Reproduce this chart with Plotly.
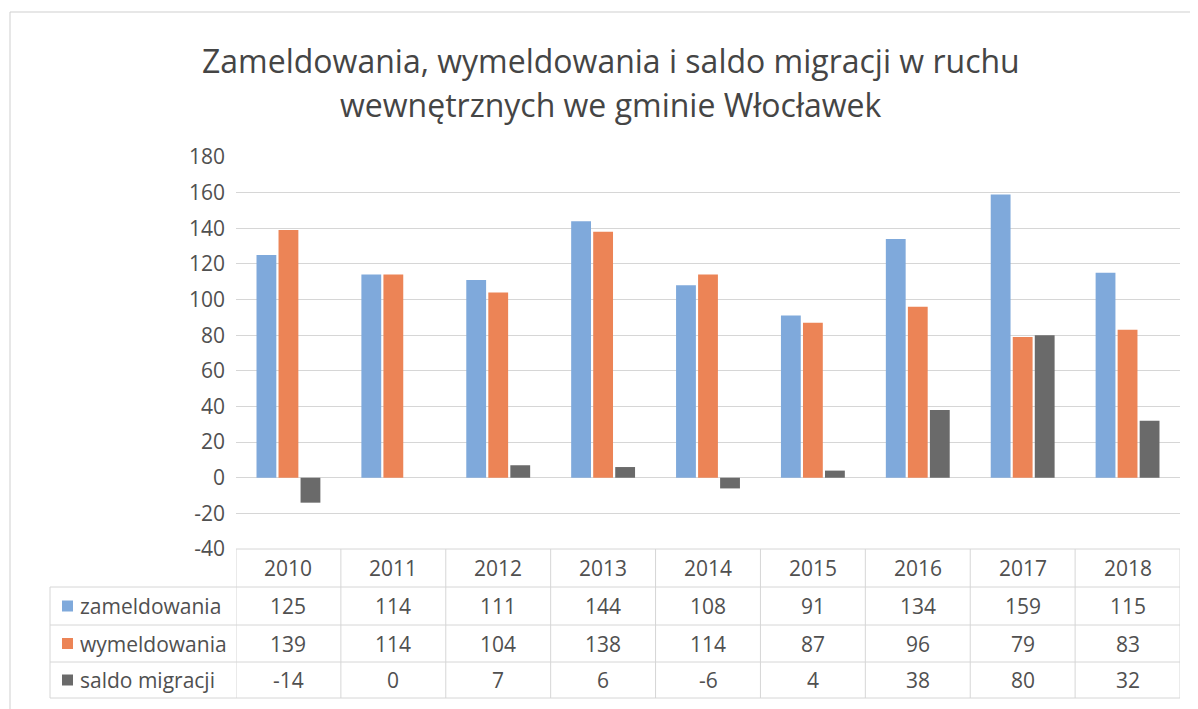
import plotly.graph_objects as go

years = ["2010", "2011", "2012", "2013", "2014", "2015", "2016", "2017", "2018"]
zameldowania = [125, 114, 111, 144, 108, 91, 134, 159, 115]
wymeldowania = [139, 114, 104, 138, 114, 87, 96, 79, 83]
saldo = [-14, 0, 7, 6, -6, 4, 38, 80, 32]
series_names = ["zameldowania", "wymeldowania", "saldo migracji"]
colors = ["#7fa9db", "#ec8456", "#6a6a6a"]
y_tickvals = [-40, -20, 0, 20, 40, 60, 80, 100, 120, 140, 160, 180]
y_ticktext = ["-40", "-20", "0", "20", "40", "60", "80", "100", "120", "140", "160", "180"]
title_lines = ["Zameldowania, wymeldowania i saldo migracji w ruchu",
               "wewnętrznych we gminie Włocławek"]

OFF = 8  # page body margin of the html page
W, H = 1198 - OFF, 709 - OFF
L, R, T, B = 236 - OFF, 1180 - OFF, 157 - OFF, 549 - OFF  # plot area in figure pixels
PW, PH = R - L, B - T

def fx(px):
    return (px - OFF - L) / PW

def fy(py):
    return (B - (py - OFF)) / PH

FONT = "Open Sans"
TXT = "#505050"
GRID = "#d6d6d6"
FS = 21

xs = list(range(len(years)))
fig = go.Figure()
for name, vals, col in zip(series_names, [zameldowania, wymeldowania, saldo], colors):
    fig.add_trace(go.Bar(x=xs, y=vals, name=name, marker_color=col,
                         marker_line_width=0, showlegend=False))

shapes = []
annotations = []

# table geometry (reference pixels)
row_edges = [549, 587, 625, 662, 698]
table_left = 50
shapes.append(dict(type="line", xref="paper", yref="paper", x0=0, x1=1,
                   y0=fy(row_edges[0]), y1=fy(row_edges[0]),
                   line=dict(color=GRID, width=1)))
for ry in row_edges[1:]:
    shapes.append(dict(type="line", xref="paper", yref="paper", x0=fx(table_left), x1=1,
                       y0=fy(ry), y1=fy(ry), line=dict(color=GRID, width=1)))
shapes.append(dict(type="line", xref="paper", yref="paper", x0=fx(table_left), x1=fx(table_left),
                   y0=fy(row_edges[1]), y1=fy(row_edges[-1]), line=dict(color=GRID, width=1)))
for i in range(len(years) + 1):
    shapes.append(dict(type="line", xref="x", yref="paper", x0=i - 0.5, x1=i - 0.5,
                       y0=fy(row_edges[0]), y1=fy(row_edges[-1]), line=dict(color=GRID, width=1)))

def txt(x, y, text, xref="paper", xanchor="center", size=FS, color=TXT):
    return dict(x=x, y=y, xref=xref, yref="paper", text=text, showarrow=False,
                xanchor=xanchor, yanchor="middle",
                font=dict(family=FONT, size=size, color=color))

for i, yr in enumerate(years):
    annotations.append(txt(i, fy((row_edges[0] + row_edges[1]) / 2), yr, xref="x"))
for r, (name, vals, col) in enumerate(zip(series_names, [zameldowania, wymeldowania, saldo], colors)):
    cy = (row_edges[r + 1] + row_edges[r + 2]) / 2
    shapes.append(dict(type="rect", xref="paper", yref="paper", x0=fx(62), x1=fx(73),
                       y0=fy(cy + 5.5), y1=fy(cy - 5.5), fillcolor=col, line=dict(width=0)))
    annotations.append(txt(fx(78), fy(cy), name, xanchor="left"))
    for i, v in enumerate(vals):
        annotations.append(txt(i, fy(cy), str(v), xref="x"))

for k, line in enumerate(title_lines):
    annotations.append(txt(fx(611), fy(60 + 44 * k), line, size=32, color="#454545"))

# outer frame of the scanned page
shapes.append(dict(type="line", xref="paper", yref="paper", x0=fx(10), x1=fx(1198),
                   y0=fy(12), y1=fy(12), line=dict(color="#cfcfcf", width=1)))
shapes.append(dict(type="line", xref="paper", yref="paper", x0=fx(10), x1=fx(10),
                   y0=fy(12), y1=fy(709), line=dict(color="#cfcfcf", width=1)))

fig.update_layout(
    width=W, height=H,
    margin=dict(l=L, r=W - R, t=T, b=H - B),
    paper_bgcolor="white", plot_bgcolor="white",
    barmode="group", bargap=0.37, bargroupgap=0.1,
    xaxis=dict(range=[-0.5, len(years) - 0.5], showticklabels=False, showgrid=False,
               zeroline=False, showline=False, ticks=""),
    yaxis=dict(range=[-40, 180], tickvals=y_tickvals, ticktext=y_ticktext,
               showgrid=True, gridcolor=GRID, gridwidth=1,
               zeroline=False, showline=False, ticks="", ticklabelstandoff=10,
               tickfont=dict(family=FONT, size=FS, color=TXT)),
    shapes=shapes, annotations=annotations,
)

fig.write_html("out.html")
